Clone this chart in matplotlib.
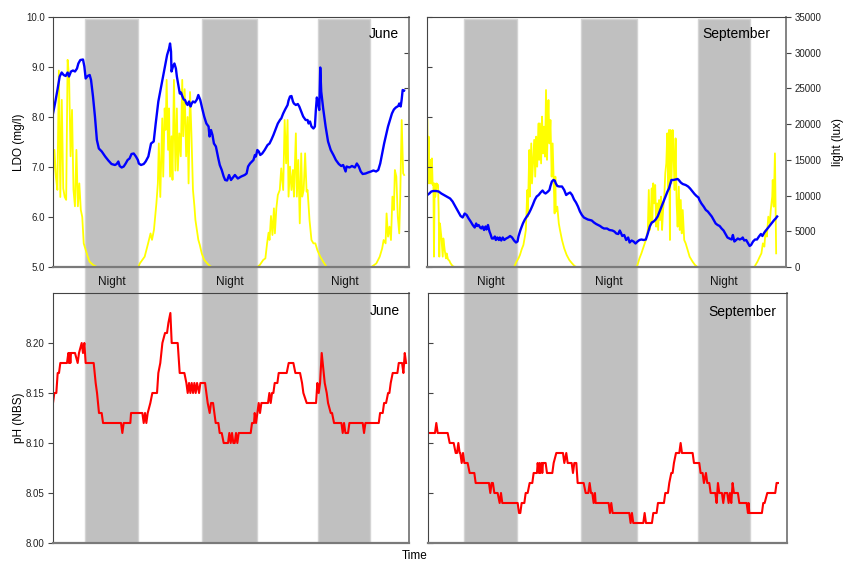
import matplotlib
matplotlib.use('Agg')
import matplotlib.pyplot as plt
from matplotlib.patches import Rectangle
from matplotlib.transforms import blended_transform_factory

plt.rcParams['font.family'] = ['Liberation Sans', 'DejaVu Sans']

# time in hours from the start of each record
june_do_t = [0.0, 0.41, 0.96, 1.37, 1.78, 2.19, 2.6, 3.0, 3.28, 3.69,
             4.1, 4.51, 4.92, 5.2, 5.6, 6.15, 6.43, 6.7, 7.11, 7.52,
             7.8, 8.2, 8.6, 9.0, 9.4, 10.0, 10.7, 11.35, 12.0, 12.7,
             13.06, 13.4, 13.67, 14.08, 14.5, 14.9, 15.3, 15.7, 16.1, 16.55,
             17.0, 17.4, 17.6, 18.05, 18.6, 19.0, 19.55, 20.1, 20.65, 21.06,
             21.6, 22.3, 22.7, 23.1, 23.4, 23.8, 24.0, 24.2, 24.3, 24.6,
             24.9, 25.2, 25.4, 25.7, 26.0, 26.25, 26.5, 26.8, 27.07, 27.35,
             27.6, 27.9, 28.2, 28.44, 28.7, 29.1, 29.5, 29.8, 30.2, 30.6,
             31.0, 31.45, 31.9, 32.1, 32.4, 32.7, 33.0, 33.4, 33.6, 33.9,
             34.2, 34.6, 35.0, 35.3, 35.7, 36.1, 36.5, 37.3, 37.9, 38.6,
             39.3, 39.7, 40.0, 40.4, 40.8, 41.1, 41.4, 41.6, 41.9, 42.2,
             42.5, 42.9, 43.4, 44.0, 44.4, 44.8, 45.2, 45.7, 46.1, 46.6,
             46.8, 47.2, 47.6, 48.1, 48.3, 48.6, 48.9, 49.2, 49.4, 49.8,
             50.2, 50.5, 50.9, 51.3, 51.8, 52.2, 52.4, 52.7, 53.0, 53.4,
             53.7, 53.9, 54.1, 54.3, 54.6, 54.8, 55.0, 55.4, 55.9, 56.4,
             56.95, 57.5, 58.0, 58.6, 59.1, 59.5, 60.0, 60.2, 60.8, 61.3,
             61.9, 62.3, 62.7, 63.1, 63.5, 64.1, 64.6, 65.2, 65.7, 66.25,
             66.7, 67.1, 67.5, 67.9, 68.3, 68.7, 69.1, 69.5, 69.9, 70.3,
             70.8, 71.0, 71.3, 71.5, 71.7, 72.0]
june_do = [8.07, 8.27, 8.57, 8.81, 8.89, 8.84, 8.82, 8.89, 8.81, 8.91,
           8.93, 8.91, 8.97, 9.07, 9.14, 9.15, 9.01, 8.77, 8.82, 8.84,
           8.74, 8.41, 8.01, 7.54, 7.37, 7.31, 7.21, 7.13, 7.06, 7.04,
           7.06, 7.11, 7.02, 6.99, 7.01, 7.07, 7.14, 7.17, 7.26, 7.27,
           7.21, 7.14, 7.07, 7.04, 7.06, 7.11, 7.21, 7.47, 7.51, 7.87,
           8.31, 8.67, 8.87, 9.07, 9.24, 9.37, 9.47, 9.31, 8.91, 9.01,
           9.07, 8.97, 8.81, 8.64, 8.47, 8.49, 8.42, 8.35, 8.34, 8.27,
           8.24, 8.31, 8.21, 8.27, 8.31, 8.29, 8.35, 8.44, 8.34, 8.17,
           8.01, 7.87, 7.81, 7.61, 7.74, 7.64, 7.47, 7.41, 7.31, 7.17,
           7.04, 6.94, 6.81, 6.74, 6.73, 6.84, 6.74, 6.84, 6.77, 6.81,
           6.84, 6.87, 7.01, 7.07, 7.11, 7.14, 7.24, 7.21, 7.34, 7.31,
           7.24, 7.27, 7.34, 7.44, 7.47, 7.55, 7.64, 7.77, 7.87, 7.95,
           7.97, 8.07, 8.15, 8.24, 8.33, 8.41, 8.42, 8.31, 8.27, 8.24,
           8.26, 8.21, 8.11, 8.01, 7.94, 7.94, 7.87, 7.91, 7.81, 7.77,
           7.81, 8.14, 8.39, 8.31, 8.14, 8.99, 8.51, 8.17, 7.81, 7.51,
           7.34, 7.24, 7.14, 7.06, 7.02, 7.04, 6.91, 7.01, 6.99, 7.02,
           6.99, 7.07, 7.01, 6.91, 6.86, 6.87, 6.89, 6.91, 6.93, 6.91,
           6.94, 7.07, 7.27, 7.47, 7.64, 7.81, 7.94, 8.07, 8.15, 8.19,
           8.22, 8.27, 8.21, 8.35, 8.54, 8.53]

june_lux_t = [0.0, 0.3, 0.6, 0.9, 1.2, 1.5, 1.8, 2.1, 2.4, 2.7,
              3.0, 3.3, 3.6, 3.9, 4.2, 4.5, 4.8, 5.1, 5.4, 5.7,
              6.0, 6.3, 6.7, 7.1, 7.5, 8.2, 9.0, 17.5,
              17.8, 18.8, 19.5, 20.0, 20.3, 20.7, 21.2, 21.5, 21.7, 22.0,
              22.4, 22.6, 22.9, 23.1, 23.3, 23.6, 23.8, 24.0, 24.3, 24.5,
              24.8, 25.1, 25.4, 25.6, 25.9, 26.2, 26.5, 26.7, 27.0, 27.3,
              27.6, 27.8, 28.1, 28.4, 28.7, 29.0, 29.2, 29.5, 29.8, 30.1,
              30.5, 31.0, 31.9, 32.5, 41.9,
              42.4, 43.1, 43.55, 43.9, 44.2, 44.4, 44.7, 45.0, 45.3, 45.5,
              45.8, 46.1, 46.5, 46.8, 47.2, 47.5, 47.8, 48.1, 48.3, 48.6,
              48.9, 49.2, 49.4, 49.8, 50.0, 50.3, 50.6, 50.9, 51.1, 51.4,
              51.7, 52.0, 52.2, 52.6, 53.0, 53.4, 53.8, 54.2, 54.8, 55.4,
              56.1, 65.3,
              66.3, 67.0, 67.5, 67.8, 68.2, 68.4, 68.7, 69.0, 69.3, 69.6,
              69.9, 70.1, 70.4, 70.7, 71.0, 71.2, 71.5, 71.8, 72.0]
june_lux = [12400, 16400, 12600, 10800, 27500, 9800, 23400, 11000, 9800, 9400,
            29000, 26600, 15500, 22000, 10800, 8500, 16400, 8500, 11700, 8000,
            7000, 3300, 2400, 1500, 750, 300, 0, 0,
            500, 1450, 3300, 4700, 3800, 5200, 8900, 11700, 17300, 9800,
            20800, 12650, 22200, 19200, 26200, 16400, 22200, 12650, 18300, 12200,
            26200, 13500, 22200, 13500, 18700, 15500, 26200, 18300, 24900, 15500,
            21000, 11700, 24500, 18300, 10800, 8500, 6600, 5200, 3800, 3100,
            1900, 1000, 300, 0, 0,
            280, 980, 1210, 3310, 4810, 3780, 7140, 4480, 8210, 4710,
            8210, 10080, 10780, 13810, 10780, 20580, 14510, 20580, 9850, 14050,
            10780, 13580, 9850, 18710, 9850, 14980, 6110, 15910, 9850, 10780,
            15910, 10550, 10780, 6580, 3780, 3310, 3310, 2380, 1450, 750,
            0, 0,
            500, 1450, 2610, 3780, 3310, 7500, 4250, 5650, 3780, 9850,
            7980, 13580, 12650, 7050, 4710, 9850, 20580, 13110, 12880]

sept_do_t = [0.07, 0.47, 0.88, 1.29, 1.83, 2.37, 2.91, 3.46, 4.0, 4.7,
             5.2, 5.76, 6.3, 6.84, 7.25, 7.66, 8.06, 8.47, 8.88, 9.3,
             9.7, 10.0, 10.2, 10.5, 10.8, 11.05, 11.3, 11.6, 11.9, 12.1,
             12.4, 12.7, 12.9, 13.2, 13.5, 13.8, 14.0, 14.3, 14.6, 14.8,
             15.1, 15.4, 15.7, 16.1, 16.5, 16.9, 17.3, 17.7, 18.1, 18.4,
             18.6, 19.0, 19.5, 19.9, 20.3, 20.7, 21.1, 21.5, 21.9, 22.3,
             22.7, 23.1, 23.5, 23.8, 24.1, 24.5, 24.9, 25.1, 25.4, 25.7,
             25.97, 26.2, 26.5, 26.9, 27.45, 27.9, 28.3, 28.7, 29.1, 29.5,
             29.9, 30.3, 30.7, 31.1, 31.5, 31.9, 32.3, 32.7, 33.1, 33.5,
             33.95, 34.4, 34.8, 35.2, 35.6, 36.0, 36.6, 37.1, 37.7, 38.1,
             38.5, 38.9, 39.2, 39.4, 39.7, 40.1, 40.5, 40.9, 41.2, 41.6,
             42.0, 42.4, 42.8, 43.2, 43.6, 44.05, 44.5, 44.9, 45.3, 45.7,
             46.1, 46.5, 46.9, 47.3, 47.7, 48.1, 48.5, 48.9, 49.2, 49.5,
             49.7, 50.1, 50.55, 50.96, 51.2, 51.6, 52.0, 52.6, 53.1, 53.5,
             54.0, 54.4, 54.8, 55.2, 55.4, 55.8, 56.25, 56.7, 57.1, 57.5,
             57.9, 58.3, 58.7, 59.1, 59.5, 59.9, 60.3, 60.7, 61.1, 61.5,
             61.95, 62.2, 62.5, 62.75, 63.2, 63.6, 64.0, 64.2, 64.5, 64.9,
             65.3, 65.6, 65.9, 66.3, 66.7, 67.1, 67.5, 67.9, 68.2, 68.6,
             69.0, 69.4, 69.8, 70.2, 70.6, 70.9, 71.2]
sept_do = [6.44, 6.47, 6.51, 6.52, 6.52, 6.51, 6.47, 6.44, 6.41, 6.37,
           6.31, 6.21, 6.11, 6.02, 5.99, 6.07, 6.04, 5.97, 5.91, 5.84,
           5.79, 5.87, 5.82, 5.84, 5.79, 5.77, 5.81, 5.74, 5.81, 5.75,
           5.84, 5.71, 5.66, 5.57, 5.57, 5.61, 5.54, 5.59, 5.54, 5.59,
           5.53, 5.59, 5.54, 5.57, 5.59, 5.62, 5.59, 5.53, 5.49, 5.51,
           5.61, 5.74, 5.87, 5.95, 6.01, 6.07, 6.15, 6.24, 6.34, 6.41,
           6.44, 6.49, 6.53, 6.49, 6.47, 6.50, 6.54, 6.62, 6.71, 6.74,
           6.73, 6.67, 6.62, 6.61, 6.61, 6.54, 6.44, 6.47, 6.49, 6.44,
           6.35, 6.29, 6.21, 6.11, 6.04, 5.99, 5.97, 5.95, 5.94, 5.93,
           5.89, 5.86, 5.84, 5.82, 5.79, 5.77, 5.77, 5.74, 5.73, 5.71,
           5.67, 5.66, 5.73, 5.69, 5.62, 5.64, 5.54, 5.59, 5.49, 5.53,
           5.51, 5.47, 5.51, 5.54, 5.55, 5.54, 5.55, 5.67, 5.81, 5.89,
           5.91, 5.95, 6.01, 6.11, 6.21, 6.31, 6.41, 6.51, 6.57, 6.67,
           6.74, 6.74, 6.75, 6.76, 6.74, 6.69, 6.66, 6.64, 6.61, 6.57,
           6.51, 6.46, 6.42, 6.39, 6.34, 6.27, 6.21, 6.14, 6.11, 6.06,
           6.01, 5.94, 5.87, 5.84, 5.82, 5.77, 5.73, 5.66, 5.59, 5.57,
           5.55, 5.64, 5.51, 5.53, 5.57, 5.55, 5.57, 5.59, 5.53, 5.54,
           5.47, 5.42, 5.44, 5.51, 5.55, 5.55, 5.61, 5.66, 5.62, 5.69,
           5.74, 5.79, 5.84, 5.89, 5.94, 5.97, 6.01]

sept_lux_t = [0.07, 0.2, 0.34, 0.47, 0.6, 0.75, 0.88, 1.0, 1.15, 1.3,
              1.42, 1.56, 1.7, 1.96, 2.24, 2.37, 2.5, 2.64, 2.91, 3.2,
              3.32, 3.6, 3.86, 4.0, 4.27, 4.54, 4.8, 5.2, 5.6, 17.7,
              17.9, 18.2, 18.6, 18.9, 19.25, 19.6, 19.9, 20.1, 20.4, 20.5,
              20.8, 20.9, 21.2, 21.35, 21.6, 21.8, 22.0, 22.2, 22.4, 22.7,
              22.8, 22.97, 23.2, 23.4, 23.6, 23.8, 24.0, 24.2, 24.4, 24.6,
              24.7, 24.9, 25.1, 25.35, 25.55, 25.75, 25.95, 26.1, 26.2, 26.5,
              26.8, 27.04, 27.45, 27.9, 28.4, 28.94, 29.5, 30.0, 30.4, 42.6,
              42.8, 43.2, 43.6, 44.05, 44.5, 44.9, 45.0, 45.1, 45.3, 45.5,
              45.7, 45.8, 46.0, 46.2, 46.4, 46.6, 46.8, 47.0, 47.2, 47.4,
              47.6, 47.8, 48.0, 48.25, 48.45, 48.66, 48.86, 49.06, 49.2, 49.4,
              49.5, 49.7, 49.95, 50.15, 50.35, 50.55, 50.76, 50.96, 51.2, 51.4,
              51.6, 51.8, 52.0, 52.3, 52.6, 53.0, 53.4, 54.0, 54.5, 55.0,
              66.6,
              66.8, 67.2, 67.6, 68.0, 68.3, 68.6, 68.85, 69.1, 69.4, 69.7,
              69.9, 70.2, 70.3, 70.5, 70.75, 70.9, 71.0]
sept_lux = [20600, 11700, 18250, 14050, 11700, 15000, 11700, 15200, 11500, 11700,
            1450, 11700, 9850, 11700, 11500, 8000, 1450, 6100, 4250, 1450,
            4000, 2380, 1200, 1900, 1070, 890, 510, 140, 0, 0,
            280, 750, 1210, 1680, 2470, 3080, 4250, 5180, 10780, 7050,
            16380, 9850, 17300, 11700, 15000, 17800, 12650, 18250, 14050, 20100,
            15000, 20100, 14500, 21050, 15900, 19650, 15450, 24780, 15000, 21050,
            23380, 17300, 20580, 12650, 17300, 12650, 7500, 12650, 7750, 8450,
            6100, 5180, 3780, 2610, 1680, 980, 510, 140, 0, 0,
            280, 1210, 1910, 2850, 3780, 5180, 7980, 10780, 5180, 7050,
            11010, 6110, 11710, 8910, 11480, 5650, 8910, 5180, 9380, 6580,
            9850, 5180, 7980, 9850, 13110, 14510, 18710, 10780, 19180, 3780,
            19180, 11710, 19180, 15450, 10780, 18010, 8910, 5650, 11250, 5180,
            9380, 4710, 7980, 3780, 3310, 2380, 1450, 750, 280, 0,
            0,
            280, 750, 1350, 1910, 3310, 2850, 5180, 4250, 7050, 6110,
            7980, 9850, 12180, 8450, 15910, 7980, 1910]

june_ph_t = [0.0, 0.27, 0.68, 0.96, 1.23, 1.5, 2.87, 3.15, 3.28, 3.42,
             3.56, 3.69, 4.51, 5.06, 5.33, 5.88, 6.15, 6.43, 6.7, 8.34,
             8.75, 9.03, 9.43, 9.98, 10.26, 13.95, 14.22, 14.5, 15.86, 16.0,
             18.32, 18.6, 18.87, 19.14, 19.42, 19.96, 20.37, 21.33, 21.6, 22.0,
             22.43, 22.97, 23.38, 23.66, 24.07, 24.34, 25.57, 25.98, 26.94, 27.35,
             27.62, 27.9, 28.17, 28.44, 28.72, 28.99, 29.26, 29.54, 29.95, 30.22,
             31.18, 31.45, 31.72, 32.13, 32.4, 32.82, 33.09, 33.36, 33.91, 34.18,
             34.6, 35.0, 35.28,
             35.89, 36.16, 36.44, 36.71, 36.98, 37.26, 37.53, 37.8, 38.08, 38.35,
             40.54, 40.81, 41.22, 41.36, 41.63, 41.91, 42.18, 42.45, 42.73, 44.09,
             44.37, 44.64, 44.91, 45.19, 45.46, 46.01, 46.28, 47.92, 48.33, 49.29,
             49.7, 50.66, 51.07, 51.34, 52.02, 53.94, 54.21, 54.49, 54.76, 55.1,
             55.72, 56.13, 56.4, 56.95, 57.22, 57.63, 59.14, 59.41, 59.68, 59.96,
             60.5, 60.78, 63.24, 63.51, 63.78, 64.06, 66.8, 67.07, 67.61, 67.89,
             68.3, 68.71, 68.98, 69.25, 69.66, 70.62, 70.9, 71.58, 71.85, 72.13,
             72.4]
june_ph = [8.14, 8.15, 8.15, 8.17, 8.17, 8.18, 8.18, 8.19, 8.18, 8.19,
           8.18, 8.19, 8.19, 8.18, 8.19, 8.20, 8.19, 8.20, 8.18, 8.18,
           8.16, 8.15, 8.13, 8.13, 8.12, 8.12, 8.11, 8.12, 8.12, 8.13,
           8.13, 8.12, 8.13, 8.12, 8.13, 8.14, 8.15, 8.15, 8.17, 8.18,
           8.20, 8.21, 8.21, 8.22, 8.23, 8.20, 8.20, 8.17, 8.17, 8.16,
           8.15, 8.16, 8.15, 8.16, 8.15, 8.16, 8.15, 8.16, 8.15, 8.16,
           8.16, 8.15, 8.14, 8.13, 8.14, 8.14, 8.13, 8.12, 8.12, 8.11,
           8.11, 8.10, 8.10,
           8.10, 8.11, 8.10, 8.11, 8.10, 8.10, 8.11, 8.10, 8.11, 8.11,
           8.11, 8.12, 8.12, 8.13, 8.12, 8.13, 8.14, 8.13, 8.14, 8.14,
           8.15, 8.14, 8.15, 8.15, 8.16, 8.16, 8.17, 8.17, 8.18, 8.18,
           8.17, 8.17, 8.16, 8.15, 8.14, 8.14, 8.16, 8.15, 8.16, 8.19,
           8.16, 8.15, 8.14, 8.13, 8.13, 8.12, 8.12, 8.11, 8.12, 8.11,
           8.11, 8.12, 8.12, 8.12, 8.11, 8.12, 8.12, 8.13, 8.13, 8.14,
           8.14, 8.15, 8.15, 8.16, 8.17, 8.17, 8.18, 8.18, 8.17, 8.19,
           8.18]

sept_ph_t = [0.2, 1.42, 1.69, 1.97, 4.0, 4.41, 5.22, 5.63, 5.9, 6.17,
             6.44, 6.57, 6.85, 7.12, 7.39, 8.06, 8.47, 9.42, 9.69, 12.4,
             12.67, 12.94, 13.2, 13.49, 14.16, 14.57, 14.84, 15.11, 18.23, 18.5,
             18.77, 19.04, 19.59, 19.86, 20.26, 20.67, 21.21, 21.48, 22.16, 22.3,
             22.57, 22.7, 22.84, 23.11, 23.24, 23.38, 23.92, 24.19, 25.28, 25.55,
             26.09, 27.45, 27.72, 28.12, 28.4, 29.21, 29.48, 29.75, 30.16, 30.43,
             31.65, 32.06, 32.6, 32.87, 33.14, 33.41, 33.68, 33.95, 34.09, 34.36,
             35.78, 36.73, 37.0, 37.27, 37.54, 40.93, 41.2, 41.47, 41.74, 42.01,
             42.56, 43.78, 44.05, 44.32, 45.54, 45.81, 46.49, 46.76, 47.98, 48.25,
             48.79, 49.06, 49.47, 49.74, 50.01, 50.42, 51.1, 51.37, 51.64, 53.81,
             54.08, 55.16, 55.43, 55.84, 56.11, 56.52, 56.79, 57.2, 57.47, 58.42,
             58.69, 58.96, 59.23, 59.77, 60.04, 60.31, 60.85, 61.13, 61.4, 61.67,
             61.94, 62.21, 63.02, 63.3, 64.79, 65.06, 65.19, 65.33, 67.9, 68.17,
             68.45, 68.99, 70.61, 70.88, 71.16]
sept_ph = [8.11, 8.11, 8.12, 8.11, 8.11, 8.10, 8.10, 8.09, 8.09, 8.10,
           8.09, 8.09, 8.08, 8.09, 8.08, 8.08, 8.07, 8.07, 8.06, 8.06,
           8.05, 8.06, 8.06, 8.05, 8.05, 8.04, 8.05, 8.04, 8.04, 8.03,
           8.03, 8.04, 8.04, 8.05, 8.05, 8.06, 8.06, 8.07, 8.07, 8.08,
           8.07, 8.08, 8.07, 8.08, 8.07, 8.08, 8.08, 8.07, 8.07, 8.08,
           8.09, 8.09, 8.08, 8.09, 8.08, 8.08, 8.07, 8.08, 8.08, 8.06,
           8.06, 8.05, 8.05, 8.06, 8.05, 8.05, 8.04, 8.05, 8.04, 8.04,
           8.04, 8.04, 8.03, 8.04, 8.03, 8.03, 8.02, 8.03, 8.02, 8.02,
           8.02, 8.02, 8.03, 8.02, 8.02, 8.03, 8.03, 8.04, 8.04, 8.05,
           8.05, 8.06, 8.07, 8.07, 8.08, 8.09, 8.09, 8.10, 8.09, 8.09,
           8.08, 8.08, 8.07, 8.07, 8.06, 8.07, 8.06, 8.06, 8.05, 8.05,
           8.04, 8.06, 8.05, 8.05, 8.04, 8.05, 8.05, 8.04, 8.05, 8.04,
           8.06, 8.05, 8.05, 8.04, 8.04, 8.03, 8.04, 8.03, 8.03, 8.04,
           8.04, 8.05, 8.05, 8.06, 8.06]

june_nights = [(6.5, 17.5), (30.55, 41.9), (54.4, 65.1)]
sept_nights = [(7.5, 18.3), (31.3, 42.7), (55.1, 65.7)]

for a, b in [(june_do_t, june_do), (june_lux_t, june_lux), (sept_do_t, sept_do),
             (sept_lux_t, sept_lux), (june_ph_t, june_ph), (sept_ph_t, sept_ph)]:
    assert len(a) == len(b), (len(a), len(b))

W, H = 846, 565
fig = plt.figure(figsize=(W / 100, H / 100), dpi=100)


def box(l, t, r, b):
    return [l / W, 1 - b / H, (r - l) / W, (b - t) / H]


ax_do_j = fig.add_axes(box(53, 17, 409, 267))
ax_do_s = fig.add_axes(box(427, 17, 786, 267))
ax_ph_j = fig.add_axes(box(53, 293, 409, 543))
ax_ph_s = fig.add_axes(box(428, 293, 787, 543))
ax_lux_j = ax_do_j.twinx()
ax_lux_s = ax_do_s.twinx()

dark = '#444444'
grey = '#7a7a7a'
tick_kw = dict(labelsize=7, length=3.5, color=dark, labelcolor='#222222', pad=2.5)

for ax in [ax_do_j, ax_do_s, ax_ph_j, ax_ph_s]:
    ax.patch.set_visible(False)
    ax.set_xlim(0, 73)
    ax.set_xticks([])
    ax.spines['top'].set_color(dark)
    ax.spines['left'].set_color(dark)
    ax.spines['bottom'].set_color(grey)
    ax.spines['bottom'].set_linewidth(1.6)
    ax.spines['right'].set_color(grey)
    ax.spines['right'].set_linewidth(1.3)
    ax.tick_params(axis='y', **tick_kw)

for ax, twin in [(ax_do_j, ax_lux_j), (ax_do_s, ax_lux_s)]:
    ax.set_zorder(twin.get_zorder() + 1)
    ax.spines['right'].set_visible(False)
    for s in ['top', 'left', 'bottom']:
        twin.spines[s].set_visible(False)
    twin.spines['right'].set_color(grey)
    twin.spines['right'].set_linewidth(1.3)
    twin.set_ylim(0, 35000)
    twin.set_yticks(range(0, 35001, 5000))
    twin.tick_params(axis='y', **tick_kw)
    ax.set_ylim(5, 10)
    ax.set_yticks([5, 6, 7, 8, 9, 10])
    ax.yaxis.set_major_formatter('{x:.1f}')

ax_lux_j.tick_params(axis='y', direction='in', labelright=False)
ax_do_s.tick_params(axis='y', direction='in', labelleft=False)

for ax in [ax_ph_j, ax_ph_s]:
    ax.set_ylim(8.0, 8.25)
    ax.set_yticks([8.00, 8.05, 8.10, 8.15, 8.20])
    ax.yaxis.set_major_formatter('{x:.2f}')
ax_ph_s.tick_params(axis='y', direction='in', labelleft=False)

# data
ax_lux_j.plot(june_lux_t, june_lux, color='#ffff00', lw=1.3)
ax_do_j.plot(june_do_t, june_do, color='#0000ff', lw=1.7)
ax_lux_s.plot(sept_lux_t, sept_lux, color='#ffff00', lw=1.3)
ax_do_s.plot(sept_do_t, sept_do, color='#0000ff', lw=1.7)
ax_ph_j.plot(june_ph_t, june_ph, color='#ff0000', lw=1.5)
ax_ph_s.plot(sept_ph_t, sept_ph, color='#ff0000', lw=1.5)

# night bands span both rows
y0, y1 = 1 - 542 / H, 1 - 19 / H
for ax, nights in [(ax_do_j, june_nights), (ax_do_s, sept_nights)]:
    trans = blended_transform_factory(ax.transData, fig.transFigure)
    for n0, n1 in nights:
        fig.add_artist(Rectangle((n0, y0), n1 - n0, y1 - y0, transform=trans,
                                 facecolor='#c0c0c0', edgecolor='#d4d4d4',
                                 lw=1, zorder=-5))
        fig.text((n0 + n1) / 2, 1 - 282.5 / H, 'Night', transform=trans,
                 ha='center', va='center', fontsize=8.5, color='#111111')

ax_do_j.text(0.972, 0.932, 'June', transform=ax_do_j.transAxes, ha='right', va='center', fontsize=10)
ax_do_s.text(0.957, 0.932, 'September', transform=ax_do_s.transAxes, ha='right', va='center', fontsize=10)
ax_ph_j.text(0.975, 0.928, 'June', transform=ax_ph_j.transAxes, ha='right', va='center', fontsize=10)
ax_ph_s.text(0.971, 0.925, 'September', transform=ax_ph_s.transAxes, ha='right', va='center', fontsize=10)

fig.text(19 / W, 1 - 142 / H, 'LDO (mg/l)', rotation=90, ha='center', va='center', fontsize=8.5)
fig.text(19 / W, 1 - 418 / H, 'pH (NBS)', rotation=90, ha='center', va='center', fontsize=8.5)
fig.text(838 / W, 1 - 142 / H, 'light (lux)', rotation=90, ha='center', va='center', fontsize=8.5)
fig.text(415 / W, 1 - 556 / H, 'Time', ha='center', va='center', fontsize=8.5)

fig.savefig('out.png', dpi=100, facecolor='white')
